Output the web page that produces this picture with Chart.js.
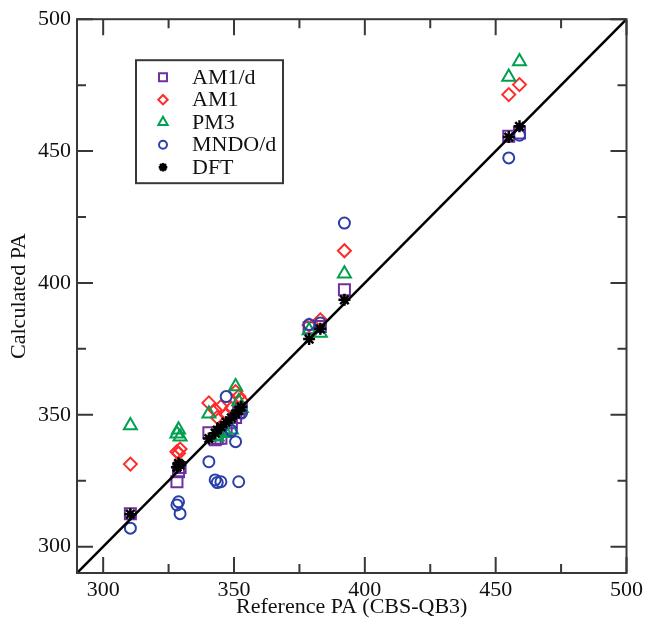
<!DOCTYPE html>
<html>
<head>
<meta charset="utf-8">
<script src="https://cdn.jsdelivr.net/npm/chart.js@4.4.0/dist/chart.umd.min.js"></script>
<style>
  html, body { margin: 0; padding: 0; background: #fff; }
</style>
</head>
<body>
<canvas id="pa" width="647" height="622"></canvas>
<script>
// proton affinities (kcal/mol), one entry per molecule
const refPA = [310.4, 328.2, 328.8, 329.4, 340.4, 342.8, 343.6, 345.0, 347.0, 349.0, 350.6, 351.8, 352.8, 378.7, 383.0, 392.2, 455.0, 459.1];
const am1d  = [312.5, 324.6, 328.4, 330.0, 343.2, 340.5, 341.0, 341.1, 345.0, 347.0, 349.0, 351.0, 352.5, 383.0, 383.5, 397.4, 455.6, 456.9];
const am1   = [331.3, 336.0, 335.4, 337.0, 354.5, 351.8, 349.0, 353.1, 350.0, 352.5, 358.8, 357.0, 355.5, 384.0, 386.0, 412.2, 471.4, 475.2];
const pm3   = [345.9, 342.8, 344.3, 341.7, 350.4, 342.0, 341.7, 343.6, 343.0, 344.3, 360.7, 355.0, 352.5, 382.0, 381.0, 403.5, 478.1, 484.0];
const mndod = [307.0, 315.8, 317.0, 312.5, 332.2, 325.3, 324.3, 324.6, 356.9, 344.0, 339.8, 324.6, 350.6, 384.2, 384.8, 422.7, 447.4, 456.0];
const dft   = [312.3, 330.1, 331.6, 331.0, 341.0, 343.0, 344.2, 345.4, 347.2, 348.8, 350.3, 351.6, 353.0, 378.7, 382.6, 393.6, 455.3, 459.4];

const axisMin = 290, axisMax = 500;
const majorTicks = [300, 350, 400, 450, 500];
const minorTicks = [325, 375, 425, 475];

const serif = 'Liberation Serif';

function pts(ys) {
  return refPA.map((x, i) => ({ x: x, y: ys[i] }));
}

function series(label, ys, color, style, radius, width, order) {
  return {
    type: 'scatter',
    label: label,
    data: pts(ys),
    pointStyle: style,
    pointRadius: radius,
    pointHoverRadius: radius,
    pointBorderColor: color,
    pointBackgroundColor: 'rgba(0,0,0,0)',
    pointBorderWidth: width,
    borderColor: color,
    backgroundColor: 'rgba(0,0,0,0)',
    order: order,
    inLegend: true
  };
}

// box around the plot with inward ticks on all four sides
const frame = {
  id: 'frame',
  afterDatasetsDraw(chart) {
    const { ctx, chartArea: a, scales: { x, y } } = chart;
    ctx.save();
    ctx.strokeStyle = '#383838';
    ctx.lineWidth = 2;
    ctx.strokeRect(a.left, a.top, a.right - a.left, a.bottom - a.top);
    ctx.beginPath();
    const tick = (v, len) => {
      const px = x.getPixelForValue(v), py = y.getPixelForValue(v);
      ctx.moveTo(px, a.bottom); ctx.lineTo(px, a.bottom - len);
      ctx.moveTo(px, a.top); ctx.lineTo(px, a.top + len);
      ctx.moveTo(a.left, py); ctx.lineTo(a.left + len, py);
      ctx.moveTo(a.right, py); ctx.lineTo(a.right - len, py);
    };
    majorTicks.forEach(v => tick(v, 16));
    minorTicks.forEach(v => tick(v, 9));
    ctx.stroke();
    ctx.restore();
  }
};

// boxed legend in the upper left of the plot
const legendBox = {
  id: 'legendBox',
  afterDraw(chart) {
    const { ctx, chartArea: a } = chart;
    const left = a.left + 59, top = a.top + 41, w = 147, h = 123;
    ctx.save();
    ctx.fillStyle = '#fff';
    ctx.fillRect(left, top, w, h);
    ctx.strokeStyle = '#383838';
    ctx.lineWidth = 2;
    ctx.strokeRect(left, top, w, h);
    let row = 0;
    chart.data.datasets.forEach(ds => {
      if (!ds.inLegend) return;
      const cy = top + 17 + row * 22.5;
      ctx.fillStyle = 'rgba(0,0,0,0)';
      ctx.strokeStyle = ds.pointBorderColor;
      ctx.lineWidth = ds.pointBorderWidth;
      Chart.helpers.drawPoint(ctx, {
        pointStyle: ds.pointStyle,
        radius: ds.pointRadius * 0.72,
        borderWidth: ds.pointBorderWidth,
        rotation: 0
      }, left + 27, cy);
      ctx.font = '22px "' + serif + '"';
      ctx.textBaseline = 'middle';
      ctx.textAlign = 'left';
      ctx.fillStyle = '#111';
      ctx.fillText(ds.label, left + 56, cy + 1);
      row++;
    });
    ctx.restore();
  }
};

const scaleBase = {
  type: 'linear',
  min: axisMin,
  max: axisMax,
  grid: { display: false, drawTicks: false },
  border: { display: false },
  afterBuildTicks: s => { s.ticks = majorTicks.map(v => ({ value: v })); },
  ticks: {
    color: '#111',
    font: { family: serif, size: 22 },
    padding: 6
  }
};

new Chart(document.getElementById('pa'), {
  data: {
    datasets: [
      series('AM1/d', am1d, '#7030a0', 'rect', 7.8, 2, 5),
      series('AM1', am1, '#ff2a2a', 'rectRot', 6.5, 2, 4),
      series('PM3', pm3, '#00a050', 'triangle', 7.5, 2, 3),
      series('MNDO/d', mndod, '#2a40a8', 'circle', 5.5, 2, 2),
      series('DFT', dft, '#000000', 'star', 6, 2.5, 0),
      {
        type: 'line',
        label: 'y = x',
        data: [{ x: axisMin, y: axisMin }, { x: axisMax, y: axisMax }],
        borderColor: '#000',
        borderWidth: 2.5,
        pointRadius: 0,
        order: 1
      }
    ]
  },
  options: {
    responsive: false,
    animation: false,
    layout: { padding: { top: 19, right: 18, left: 0, bottom: 0 } },
    plugins: { legend: { display: false }, tooltip: { enabled: false } },
    scales: {
      x: Object.assign({}, scaleBase, {
        position: 'bottom',
        ticks: Object.assign({}, scaleBase.ticks, { padding: 4 }),
        title: { display: true, text: 'Reference PA (CBS-QB3)', color: '#111', font: { family: serif, size: 22 }, padding: { top: 0, bottom: 2 } },
        afterFit: s => { s.height = 49; }
      }),
      y: Object.assign({}, scaleBase, {
        position: 'left',
        title: { display: true, text: 'Calculated PA', color: '#111', font: { family: serif, size: 22 }, padding: { top: 6, bottom: 0 } },
        afterFit: s => { s.width = 77; }
      })
    }
  },
  plugins: [frame, legendBox]
});
</script>
</body>
</html>
